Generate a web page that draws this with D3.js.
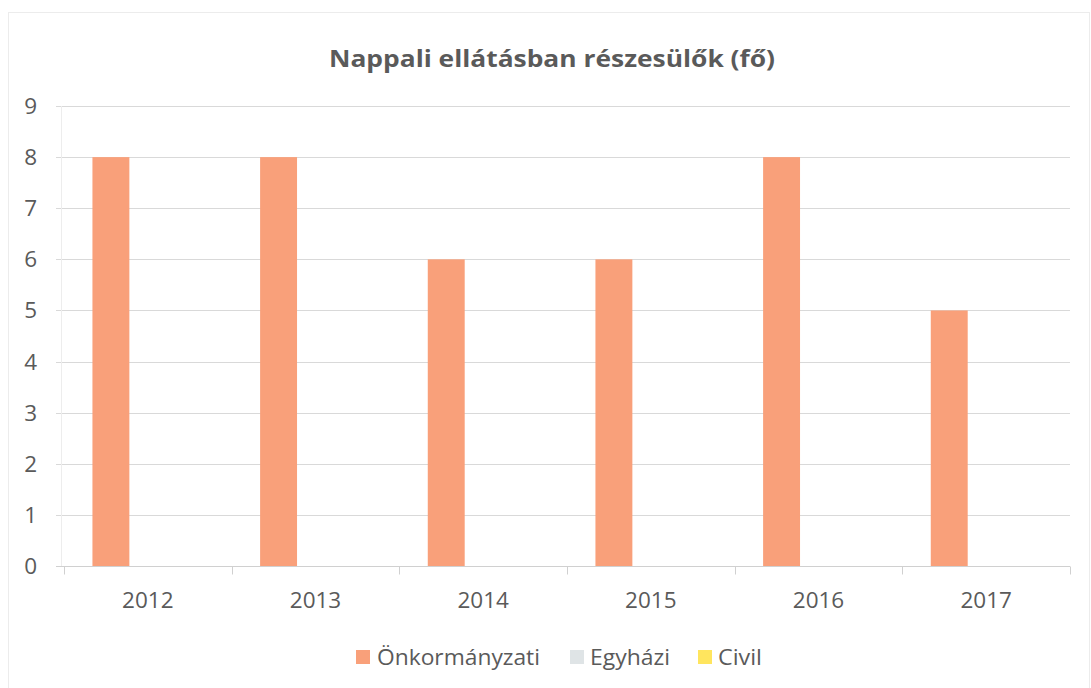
<!DOCTYPE html>
<html>
<head>
<meta charset="utf-8">
<script src="https://cdn.jsdelivr.net/npm/d3@7"></script>
<style>
  html, body { margin: 0; padding: 0; background: #fff; }
  svg { display: block; }
</style>
</head>
<body>
<div id="chart"></div>
<script>
// Chart data
const years = ["2012", "2013", "2014", "2015", "2016", "2017"];
const seriesNames = ["Önkormányzati", "Egyházi", "Civil"];
const onkormanyzati = [8, 8, 6, 6, 8, 5];
const egyhazi = [0, 0, 0, 0, 0, 0];
const civil = [0, 0, 0, 0, 0, 0];
const yTicks = [0, 1, 2, 3, 4, 5, 6, 7, 8, 9];
const titleText = "Nappali ellátásban részesülők (fő)";

const seriesValues = [onkormanyzati, egyhazi, civil];
const seriesColors = ["#f9a07a", "#dfe4e6", "#ffe55e"];

const W = 1091, H = 688;
const margin = { left: 64, right: 21, top: 106, bottom: 122 };
const fontFam = "'Open Sans', 'Noto Sans', sans-serif";
const textColor = "#5a5a5a";
const labelSize = 22.5;

const svg = d3.select("#chart").append("svg")
  .attr("width", W).attr("height", H);

// chart frame
svg.append("rect")
  .attr("x", 8.5).attr("y", 12.5)
  .attr("width", W - 10).attr("height", H - 8)
  .attr("fill", "none").attr("stroke", "#ececec");

const x = d3.scaleBand().domain(years)
  .range([margin.left, W - margin.right]).paddingInner(0).paddingOuter(0);
const y = d3.scaleLinear().domain([0, 9])
  .range([H - margin.bottom, margin.top]);

// inner band for the three series
const xs = d3.scaleBand().domain(seriesNames)
  .range([0, x.bandwidth()]).paddingInner(0).paddingOuter(0.77);

// gridlines
svg.append("g")
  .selectAll("line").data(yTicks.filter(t => t > 0)).join("line")
  .attr("x1", margin.left - 8).attr("x2", W - margin.right)
  .attr("y1", d => Math.round(y(d)) + 0.5).attr("y2", d => Math.round(y(d)) + 0.5)
  .attr("stroke", "#d9d9d9").attr("stroke-width", 1);

// faint vertical axis line
svg.append("line")
  .attr("x1", margin.left - 2.5).attr("x2", margin.left - 2.5)
  .attr("y1", y(9)).attr("y2", y(0))
  .attr("stroke", "#ededed");

// bars
const groups = svg.append("g").selectAll("g").data(years).join("g")
  .attr("transform", d => `translate(${x(d)},0)`);
groups.selectAll("rect")
  .data((d, i) => seriesNames.map((s, k) => ({ s, v: seriesValues[k][i], c: seriesColors[k] })))
  .join("rect")
  .attr("x", d => xs(d.s))
  .attr("width", xs.bandwidth())
  .attr("y", d => y(d.v))
  .attr("height", d => y(0) - y(d.v))
  .attr("fill", d => d.c);

// x axis with category-boundary ticks
const xAxisY = Math.round(y(0)) + 0.5;
svg.append("line")
  .attr("x1", margin.left - 8).attr("x2", W - margin.right)
  .attr("y1", xAxisY).attr("y2", xAxisY)
  .attr("stroke", "#d0d0d0");
const boundaries = years.map(d => x(d)).concat([x(years[years.length - 1]) + x.bandwidth()]);
svg.append("g").selectAll("line").data(boundaries).join("line")
  .attr("x1", d => Math.round(d) + 0.5).attr("x2", d => Math.round(d) + 0.5)
  .attr("y1", xAxisY).attr("y2", xAxisY + 8)
  .attr("stroke", "#d0d0d0");

svg.append("g").selectAll("text").data(years).join("text")
  .attr("x", d => x(d) + x.bandwidth() / 2)
  .attr("y", xAxisY + 41)
  .attr("text-anchor", "middle")
  .attr("font-family", fontFam).attr("font-size", labelSize)
  .attr("fill", textColor)
  .text(d => d);

// y axis labels
svg.append("g").selectAll("text").data(yTicks).join("text")
  .attr("x", 37)
  .attr("y", d => y(d) + 8)
  .attr("text-anchor", "end")
  .attr("font-family", fontFam).attr("font-size", labelSize)
  .attr("fill", textColor)
  .text(d => d);

// title
svg.append("text")
  .attr("x", 552).attr("y", 67)
  .attr("text-anchor", "middle")
  .attr("font-family", fontFam).attr("font-size", 23).attr("font-weight", "bold")
  .attr("fill", textColor)
  .attr("textLength", 446).attr("lengthAdjust", "spacingAndGlyphs")
  .text(titleText);

// legend
const legendItems = [
  { name: seriesNames[0], color: seriesColors[0], sx: 356, tx: 377, len: 163 },
  { name: seriesNames[1], color: seriesColors[1], sx: 570, tx: 590, len: 80 },
  { name: seriesNames[2], color: seriesColors[2], sx: 698, tx: 718, len: 44 }
];
const lg = svg.append("g").selectAll("g").data(legendItems).join("g");
lg.append("rect")
  .attr("x", d => d.sx).attr("y", 650)
  .attr("width", 14).attr("height", 14)
  .attr("fill", d => d.color);
lg.append("text")
  .attr("x", d => d.tx).attr("y", 665)
  .attr("font-family", fontFam).attr("font-size", labelSize)
  .attr("fill", textColor)
  .attr("textLength", d => d.len).attr("lengthAdjust", "spacingAndGlyphs")
  .text(d => d.name);
</script>
</body>
</html>
